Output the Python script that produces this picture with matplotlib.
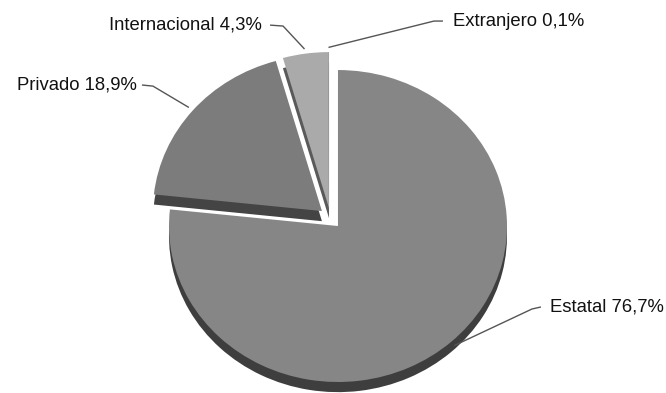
import matplotlib
matplotlib.use("Agg")
import matplotlib.pyplot as plt
import numpy as np

plt.rcParams["font.family"] = ["Liberation Sans", "DejaVu Sans"]

# data
sectors = ["Estatal", "Privado", "Internacional", "Extranjero"]
shares = [76.7, 18.9, 4.3, 0.1]
labels = ["Estatal 76,7%", "Privado 18,9%", "Internacional 4,3%", "Extranjero 0,1%"]

# style: each slice is pulled out from the centre by (dx, dy) in radius units
pull = [(0.0, 0.0), (-0.095, 0.096), (-0.053, 0.115), (-0.053, 0.115)]
top_colors = ["#868686", "#7c7c7c", "#aaaaaa", "#a0a0a0"]
rim_colors = ["#3e3e3e", "#444444", "#5a5a5a", "#5a5a5a"]
depth = 0.065

# label layout: text anchor, ha, line start, elbow (data units, radius = 1)
label_layout = [
    ((1.254, -0.519), "left", (1.201, -0.519), (1.148, -0.532)),
    ((-1.189, 0.904), "right", (-1.160, 0.904), (-1.095, 0.897)),
    ((-0.450, 1.288), "right", (-0.402, 1.288), (-0.325, 1.282)),
    ((0.680, 1.314), "left", (0.621, 1.314), (0.568, 1.314)),
]

fig = plt.figure(figsize=(6.66, 3.93), dpi=100)
ax = fig.add_axes([0, 0, 1, 1])

# shadow (3d rim) then the top face
rim, _ = ax.pie(shares, colors=rim_colors, startangle=90, counterclock=False,
                wedgeprops=dict(linewidth=0))
top, _ = ax.pie(shares, colors=top_colors, startangle=90, counterclock=False,
                wedgeprops=dict(linewidth=0))
for w_rim, w_top, (dx, dy) in zip(rim, top, pull):
    w_rim.set_center((dx, dy - depth))
    w_top.set_center((dx, dy))

ax.set_aspect("auto")
ax.set_xlim(-2.0, 1.941)
ax.set_ylim(-1.0705, 1.449)
ax.axis("off")

total = sum(shares)
cum = np.cumsum([0] + shares[:-1])
for i, (lab, v) in enumerate(zip(labels, shares)):
    theta = np.deg2rad(90 - 360 * (cum[i] + v / 2) / total)
    r = 1.03
    px = pull[i][0] + r * np.cos(theta)
    py = pull[i][1] + r * np.sin(theta)
    (tx, ty), ha, start, elbow = label_layout[i]
    ax.plot([start[0], elbow[0], px], [start[1], elbow[1], py],
            color="#555555", lw=1.0, solid_capstyle="butt")
    ax.text(tx, ty, lab, ha=ha, va="center", fontsize=13.3, color="#111111")

fig.savefig("out.png", dpi=100)
